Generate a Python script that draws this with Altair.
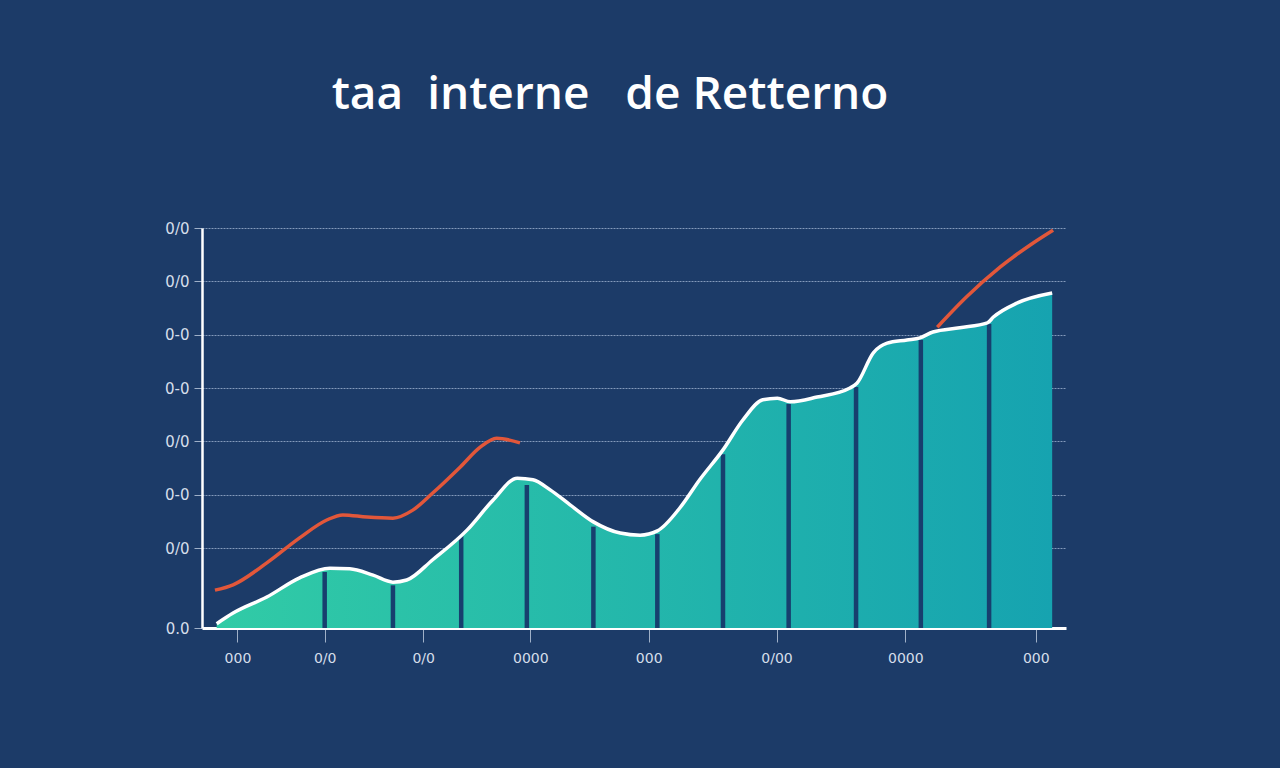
import altair as alt
import pandas as pd

# ---- data ----
CURVE_X = [1.7, 3.6, 7.5, 11.3, 14.8, 17.1, 19.8, 22.1, 23.7, 26.7, 30.7, 33.7, 36.5, 38.3,
           40.3, 42.6, 45.3, 48.4, 50.7, 52.7, 55.3, 57.6, 60.3, 62.6, 64.9, 66.6, 68.1,
           71.2, 75.0, 75.8, 77.7, 79.3, 81.6, 83.1, 84.6, 87.7, 90.9, 91.6, 94.3, 98.4]
CURVE_Y = [0.08, 0.28, 0.58, 0.94, 1.12, 1.11, 0.99, 0.86, 0.90, 1.28, 1.84, 2.40, 2.81, 2.78,
           2.59, 2.31, 1.99, 1.78, 1.74, 1.82, 2.25, 2.78, 3.34, 3.90, 4.28, 4.31, 4.24,
           4.33, 4.50, 4.59, 5.16, 5.34, 5.40, 5.44, 5.55, 5.63, 5.72, 5.83, 6.09, 6.28]

DIV_X = [14.2, 22.1, 30.0, 37.6, 45.3, 52.7, 60.3, 67.9, 75.7, 83.2, 91.1]
DIV_Y = [1.05, 0.80, 1.74, 2.68, 1.90, 1.76, 3.26, 4.20, 4.52, 5.40, 5.70]

ORANGE_A_X = [1.5, 3.6, 7.5, 11.3, 14.5, 16.3, 19.1, 22.1, 24.4, 26.7, 29.9, 32.2, 34.1, 36.8]
ORANGE_A_Y = [0.71, 0.81, 1.22, 1.69, 2.03, 2.12, 2.08, 2.06, 2.21, 2.53, 3.02, 3.39, 3.56, 3.47]
ORANGE_B_X = [85.1, 88.5, 92.4, 96.2, 98.5]
ORANGE_B_Y = [5.64, 6.21, 6.77, 7.22, 7.46]

X_TICKS = [4.1, 14.2, 25.6, 38.0, 51.7, 66.5, 81.4, 96.5]
X_LABELS = ["000", "0/0", "0/0", "0000", "000", "0/00", "0000", "000"]
Y_TICKS = [0, 1.5, 2.5, 3.5, 4.5, 5.5, 6.5, 7.5]
Y_LABELS = ["0.0", "0/0", "0-0", "0/0", "0-0", "0-0", "0/0", "0/0"]

TITLE = "taa\u00a0 interne\u00a0\u00a0 de Retterno"

BG = "#1c3b68"


def label_expr(vals, labels):
    s = "''"
    for v, l in reversed(list(zip(vals, labels))):
        s = f"datum.value == {v} ? '{l}' : ({s})"
    return s


curve = pd.DataFrame({"x": CURVE_X, "y": CURVE_Y})
divs = pd.DataFrame({"x": DIV_X, "y0": [0] * len(DIV_X), "y": DIV_Y})
orange = pd.DataFrame({
    "x": ORANGE_A_X + ORANGE_B_X,
    "y": ORANGE_A_Y + ORANGE_B_Y,
    "seg": ["a"] * len(ORANGE_A_X) + ["b"] * len(ORANGE_B_X),
})

xscale = alt.Scale(domain=[0, 100], nice=False, zero=False)
yscale = alt.Scale(domain=[0, 7.5], nice=False)

xaxis = alt.Axis(values=X_TICKS, labelExpr=label_expr(X_TICKS, X_LABELS), title=None,
                 grid=False, domainColor="white", domainWidth=3, tickColor="#9fb0c8",
                 tickSize=14, tickWidth=1, labelPadding=9, labelColor="#d5deea",
                 labelFontSize=14, labelFont="DejaVu Sans")
yaxis = alt.Axis(values=Y_TICKS, labelExpr=label_expr(Y_TICKS, Y_LABELS), title=None,
                 grid=True, gridColor="#9fb3cf", gridWidth=1, gridDash=[2, 1], gridOpacity=0.8,
                 domainColor="white", domainWidth=2.5, tickColor="#9fb0c8",
                 tickSize=8, tickWidth=1, labelPadding=5, labelColor="#d5deea",
                 labelFontSize=15, labelFont="DejaVu Sans")

X = alt.X("x:Q", scale=xscale, axis=xaxis)
Y = alt.Y("y:Q", scale=yscale, axis=yaxis)

area = alt.Chart(curve).mark_area(
    interpolate="monotone",
    color=alt.Gradient(
        gradient="linear",
        stops=[alt.GradientStop(color="#31cba6", offset=0),
               alt.GradientStop(color="#16a3b0", offset=1)],
        x1=0, x2=1, y1=0, y2=0,
    ),
).encode(x=X, y=Y)

rules = alt.Chart(divs).mark_rule(color="#173f6e", strokeWidth=4.5).encode(
    x=X, y=alt.Y("y0:Q", scale=yscale, axis=yaxis), y2="y:Q"
)

outline = alt.Chart(curve).mark_line(
    interpolate="monotone", color="white", strokeWidth=3.5
).encode(x=X, y=Y)

orange_line = alt.Chart(orange).mark_line(
    interpolate="monotone", color="#e2573a", strokeWidth=3.5
).encode(x=X, y=Y, detail="seg:N")

chart = alt.layer(area, rules, outline, orange_line).properties(
    width=864,
    height=400,
    autosize=alt.AutoSizeParams(type="none"),
    padding={"left": 202, "top": 228, "right": 214, "bottom": 140},
    title=alt.TitleParams(TITLE, fontSize=46, color="white", font="Open Sans",
                          fontWeight=600, offset=102, dx=-24, anchor="middle"),
).configure(background=BG).configure_view(stroke=None)

chart.save("out.html", embed_options={"renderer": "svg", "actions": False})
